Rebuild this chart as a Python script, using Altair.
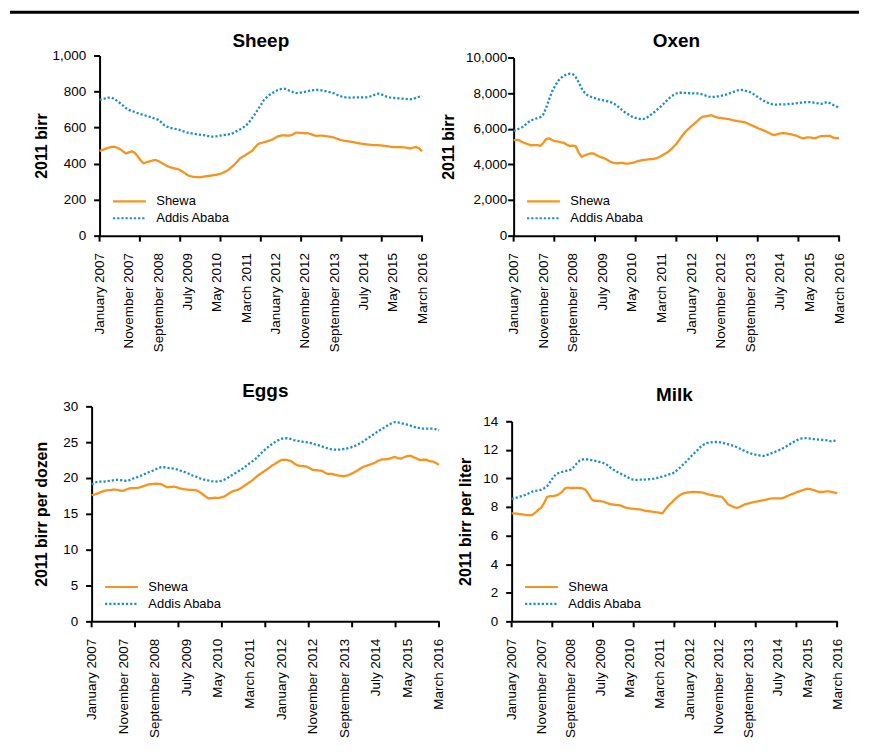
import altair as alt
import pandas as pd

FONT = "Liberation Sans, Arial, Helvetica, sans-serif"
ORANGE = "#F7941D"
BLUE = "#1B8DCB"

series_names = ["Shewa", "Addis Ababa"]
months = list(range(111))  # January 2007 ... March 2016
x_label_values = list(range(0, 111, 10))
x_labels = ["January 2007", "November 2007", "September 2008", "July 2009",
            "May 2010", "March 2011", "January 2012", "November 2012",
            "September 2013", "July 2014", "May 2015", "March 2016"]
x_tick_positions = [0, 13.75, 27.5, 41.25, 55, 68.75, 82.5, 96.25, 110]

sheep_shewa = [470, 476, 482, 488, 492, 494, 488, 480, 468, 456,
               462, 468, 460, 440, 418, 402, 407, 412, 417, 420,
               414, 406, 396, 386, 380, 376, 372, 368, 358, 348,
               336, 330, 326, 325, 324, 326, 329, 331, 333, 336,
               338, 342, 348, 356, 366, 380, 395, 412, 430, 440,
               450, 460, 470, 490, 508, 514, 518, 522, 528, 534,
               544, 552, 556, 557, 555, 556, 562, 572, 571, 570,
               568, 569, 564, 557, 554, 555, 555, 553, 551, 548,
               544, 538, 532, 528, 525, 523, 521, 518, 514, 511,
               509, 507, 505, 503, 502, 502, 501, 499, 497, 494,
               492, 491, 492, 491, 490, 487, 484, 489, 492, 485, 468]
sheep_addis = [754, 758, 762, 766, 767, 758, 748, 735, 722, 708,
               698, 692, 686, 680, 675, 670, 665, 660, 654, 649,
               643, 630, 614, 605, 598, 595, 592, 588, 582, 577,
               572, 569, 566, 563, 561, 558, 556, 553, 550, 550,
               552, 555, 558, 560, 562, 565, 573, 582, 591, 601,
               612, 630, 652, 675, 700, 725, 752, 768, 782, 792,
               802, 810, 815, 816, 810, 803, 797, 792, 791, 795,
               798, 802, 806, 808, 809, 808, 805, 802, 799, 795,
               790, 782, 775, 770, 767, 766, 766, 767, 767, 767,
               767, 768, 771, 776, 783, 788, 785, 779, 771, 767,
               765, 764, 762, 761, 760, 758, 757, 759, 765, 771, 776]
oxen_shewa = [5360, 5380, 5350, 5240, 5180, 5120, 5070, 5090, 5080, 5040,
              5200, 5420, 5460, 5360, 5310, 5280, 5240, 5210, 5100, 5030,
              5050, 5020, 4650, 4420, 4500, 4560, 4610, 4610, 4520, 4440,
              4380, 4320, 4220, 4120, 4070, 4060, 4080, 4080, 4040, 4050,
              4080, 4120, 4180, 4230, 4250, 4270, 4290, 4300, 4340, 4390,
              4480, 4580, 4680, 4810, 4980, 5150, 5380, 5620, 5820, 5980,
              6130, 6270, 6420, 6580, 6680, 6700, 6740, 6750, 6680, 6620,
              6610, 6580, 6560, 6530, 6480, 6450, 6420, 6400, 6370, 6300,
              6220, 6150, 6080, 6000, 5940, 5870, 5790, 5700, 5640, 5690,
              5740, 5750, 5740, 5710, 5680, 5640, 5580, 5500, 5460, 5510,
              5520, 5480, 5470, 5540, 5590, 5590, 5600, 5600, 5500, 5470, 5480]
oxen_addis = [5870, 5940, 6020, 6100, 6230, 6370, 6480, 6540, 6600, 6650,
              6800, 7180, 7650, 8100, 8400, 8680, 8850, 8980, 9060, 9090,
              9060, 8900, 8600, 8260, 8020, 7880, 7800, 7740, 7690, 7640,
              7600, 7570, 7530, 7480, 7400, 7280, 7140, 7000, 6880, 6780,
              6680, 6620, 6570, 6540, 6550, 6620, 6730, 6870, 6990, 7140,
              7290, 7450, 7620, 7770, 7890, 7980, 8020, 8020, 8010, 8000,
              7990, 7990, 7980, 7960, 7920, 7860, 7810, 7780, 7790, 7820,
              7850, 7880, 7930, 7990, 8050, 8110, 8170, 8180, 8150, 8100,
              8050, 7950, 7840, 7720, 7620, 7530, 7450, 7390, 7360, 7360,
              7370, 7370, 7370, 7390, 7400, 7420, 7440, 7460, 7480, 7500,
              7500, 7480, 7450, 7420, 7400, 7450, 7500, 7430, 7340, 7260, 7180]
eggs_shewa = [17.6, 17.7, 17.85, 18.05, 18.2, 18.3, 18.3, 18.4, 18.35, 18.25,
              18.2, 18.4, 18.55, 18.6, 18.6, 18.65, 18.8, 18.95, 19.1, 19.15,
              19.2, 19.2, 19.15, 18.9, 18.7, 18.75, 18.8, 18.7, 18.55, 18.45,
              18.4, 18.35, 18.35, 18.3, 18.1, 17.8, 17.45, 17.15, 17.2, 17.25,
              17.2, 17.3, 17.4, 17.7, 18.0, 18.2, 18.3, 18.5, 18.8, 19.1,
              19.4, 19.7, 20.1, 20.45, 20.75, 21.05, 21.35, 21.7, 21.95, 22.25,
              22.5, 22.55, 22.5, 22.4, 22.1, 21.8, 21.7, 21.65, 21.6, 21.4,
              21.15, 21.1, 21.05, 21.0, 20.7, 20.55, 20.6, 20.45, 20.35, 20.3,
              20.25, 20.35, 20.55, 20.75, 21.0, 21.3, 21.55, 21.7, 21.85, 22.0,
              22.2, 22.45, 22.6, 22.6, 22.65, 22.8, 22.95, 22.75, 22.7, 22.9,
              23.05, 23.1, 22.9, 22.7, 22.5, 22.55, 22.55, 22.35, 22.3, 22.1, 21.85]
eggs_addis = [19.1, 19.35, 19.5, 19.5, 19.5, 19.55, 19.6, 19.7, 19.75, 19.7,
              19.65, 19.6, 19.7, 19.9, 20.05, 20.2, 20.4, 20.6, 20.8, 20.95,
              21.15, 21.35, 21.5, 21.5, 21.4, 21.35, 21.3, 21.2, 21.05, 20.9,
              20.75, 20.55, 20.35, 20.2, 20.0, 19.85, 19.75, 19.65, 19.55, 19.5,
              19.55, 19.6, 19.75, 20.0, 20.3, 20.55, 20.8, 21.1, 21.35, 21.7,
              22.05, 22.35, 22.7, 23.15, 23.6, 24.0, 24.35, 24.7, 25.0, 25.25,
              25.45, 25.55, 25.55, 25.45, 25.3, 25.2, 25.15, 25.05, 25.0, 24.9,
              24.8, 24.65, 24.55, 24.4, 24.25, 24.1, 24.0, 23.95, 23.95, 23.95,
              24.05, 24.15, 24.25, 24.4, 24.6, 24.85, 25.1, 25.4, 25.7, 26.0,
              26.3, 26.6, 26.85, 27.15, 27.4, 27.65, 27.8, 27.75, 27.65, 27.55,
              27.45, 27.3, 27.15, 27.0, 26.95, 26.9, 26.9, 26.9, 26.9, 26.8, 26.65]
milk_shewa = [7.56, 7.55, 7.53, 7.5, 7.47, 7.44, 7.42, 7.45, 7.6, 7.8,
              7.95, 8.3, 8.7, 8.76, 8.76, 8.8, 8.9, 9.05, 9.3, 9.36,
              9.33, 9.33, 9.34, 9.33, 9.3, 9.2, 8.9, 8.55, 8.44, 8.43,
              8.41, 8.37, 8.3, 8.22, 8.18, 8.16, 8.13, 8.1, 8.0, 7.93,
              7.9, 7.88, 7.86, 7.84, 7.8, 7.75, 7.71, 7.69, 7.66, 7.63,
              7.6, 7.56, 7.85, 8.1, 8.3, 8.5, 8.7, 8.85, 8.95, 9.0,
              9.03, 9.05, 9.05, 9.04, 9.03, 8.98, 8.92, 8.86, 8.82, 8.78,
              8.74, 8.72, 8.5, 8.22, 8.1, 8.0, 7.93, 8.0, 8.1, 8.2,
              8.25, 8.3, 8.35, 8.39, 8.43, 8.47, 8.52, 8.57, 8.6, 8.61,
              8.61, 8.61, 8.65, 8.75, 8.84, 8.92, 9.0, 9.08, 9.15, 9.22,
              9.28, 9.25, 9.2, 9.12, 9.05, 9.05, 9.08, 9.1, 9.06, 9.02, 8.96]
milk_addis = [8.56, 8.62, 8.68, 8.74, 8.8, 8.88, 8.98, 9.08, 9.13, 9.16,
              9.2, 9.32, 9.46, 9.75, 10.05, 10.3, 10.38, 10.45, 10.5, 10.55,
              10.62, 10.8, 11.05, 11.25, 11.33, 11.35, 11.32, 11.28, 11.24, 11.2,
              11.14, 11.08, 10.98, 10.82, 10.66, 10.54, 10.42, 10.32, 10.22, 10.1,
              9.99, 9.92, 9.9, 9.91, 9.91, 9.92, 9.94, 9.96, 9.98, 10.02,
              10.08, 10.14, 10.2, 10.27, 10.34, 10.41, 10.6, 10.78, 10.98, 11.18,
              11.4, 11.62, 11.82, 12.02, 12.24, 12.38, 12.48, 12.52, 12.54, 12.55,
              12.55, 12.52, 12.46, 12.4, 12.34, 12.27, 12.2, 12.1, 12.0, 11.9,
              11.81, 11.74, 11.68, 11.64, 11.6, 11.58, 11.62, 11.7, 11.78, 11.86,
              11.95, 12.03, 12.15, 12.27, 12.4, 12.52, 12.63, 12.74, 12.8, 12.82,
              12.82, 12.79, 12.76, 12.74, 12.72, 12.7, 12.68, 12.66, 12.6, 12.62, 12.72]

for arr in [sheep_shewa, sheep_addis, oxen_shewa, oxen_addis,
            eggs_shewa, eggs_addis, milk_shewa, milk_addis]:
    assert len(arr) == len(months), len(arr)

label_expr = "[" + ",".join("'%s'" % s for s in x_labels) + "][round(datum.value / 10)]"


def panel(title, ytitle, shewa, addis, ymax, ystep, fmt, w, h, top,
          title_x, lab_pad, title_off):
    df = pd.DataFrame({
        "month": months * 2,
        "series": [series_names[0]] * len(months) + [series_names[1]] * len(months),
        "value": shewa + addis,
    })
    xscale = alt.Scale(domain=[0, 110], nice=False, zero=False)
    xaxis = alt.Axis(values=x_label_values, labelExpr=label_expr,
                     labelAngle=-90, ticks=False, grid=False,
                     domainColor="black", domainWidth=2,
                     labelPadding=17, labelFontSize=13.5, labelFont=FONT,
                     labelColor="black", title=None,
                     labelOverlap=False, labelFlush=False)
    legend = alt.Legend(title=None, orient="none", legendX=12, legendY=h - 41.5,
                        symbolType="M-1,0L5,0", symbolSize=121, symbolStrokeWidth=2.2,
                        labelFontSize=13, labelFont=FONT, labelColor="black",
                        labelOffset=31, rowPadding=3, padding=0)
    lines = alt.Chart(df).mark_line(strokeWidth=2.3, strokeCap="butt").encode(
        x=alt.X("month:Q", scale=xscale, axis=xaxis),
        y=alt.Y("value:Q", scale=alt.Scale(domain=[0, ymax], nice=False, range=[h, top]),
                axis=alt.Axis(values=list(range(0, ymax + 1, ystep)), format=fmt,
                              title=ytitle, titleX=title_x, titleBaseline="alphabetic",
                              titleFontSize=16, titleFontWeight="bold", titleFont=FONT,
                              titleColor="black", labelFontSize=13.5, labelFont=FONT,
                              labelColor="black", labelPadding=lab_pad,
                              tickSize=6, tickWidth=2, tickColor="black",
                              domainColor="black", domainWidth=2, grid=False,
                              labelFlush=False)),
        color=alt.Color("series:N", scale=alt.Scale(domain=series_names, range=[ORANGE, BLUE]),
                        legend=legend),
        strokeDash=alt.StrokeDash("series:N",
                                  scale=alt.Scale(domain=series_names, range=[[1, 0], [2.2, 2.0]]),
                                  legend=legend),
    )
    ticks = alt.Chart(pd.DataFrame({"t": x_tick_positions})).mark_rule(
        color="black", strokeWidth=2).encode(
        x=alt.X("t:Q", scale=xscale, axis=xaxis),
        y=alt.value(h), y2=alt.value(h + 6))
    return alt.layer(lines, ticks).properties(
        width=w, height=h,
        title=alt.TitleParams(text=title, fontSize=19, fontWeight="bold", font=FONT,
                              color="black", anchor="middle", frame="group",
                              offset=title_off, baseline="alphabetic"))


sheep = panel("Sheep", "2011 birr", sheep_shewa, sheep_addis, 1000, 200, ",d",
              324, 181, 0, -53.7, 8, -17.4)
oxen = panel("Oxen", "2011 birr", oxen_shewa, oxen_addis, 10000, 2000, ",d",
             327, 181, 2, -60.5, 1, -15.4)
eggs = panel("Eggs", "2011 birr per dozen", eggs_shewa, eggs_addis, 30, 5, "d",
             349, 216, 0, -45.7, 8, -17)
milk = panel("Milk", "2011 birr per liter", milk_shewa, milk_addis, 14, 2, "d",
             327, 216, 15, -41, 8, -13.7)

one = pd.DataFrame({"a": [0]})
top_line = alt.Chart(one).mark_rule(color="black", strokeWidth=3).encode(
    x=alt.value(0), x2=alt.value(853), y=alt.value(1.5)).properties(width=853, height=3)
spacer = alt.Chart(one).mark_rule(opacity=0).encode(
    x=alt.value(0), y=alt.value(0), y2=alt.value(1)).properties(width=10, height=1)

res = dict(color="independent", strokeDash="independent")
row1 = alt.hconcat(spacer, sheep, oxen, spacing=11).resolve_scale(**res)
row2 = alt.hconcat(spacer, eggs, milk, spacing=11).resolve_scale(**res)
grid = alt.vconcat(row1, row2, spacing=28.5).resolve_scale(**res)
chart = alt.vconcat(top_line, grid, spacing=16).resolve_scale(**res).properties(
    padding=0, background="white").configure_view(stroke="transparent")

chart.save("out.html", embed_options={"renderer": "svg", "actions": False})
